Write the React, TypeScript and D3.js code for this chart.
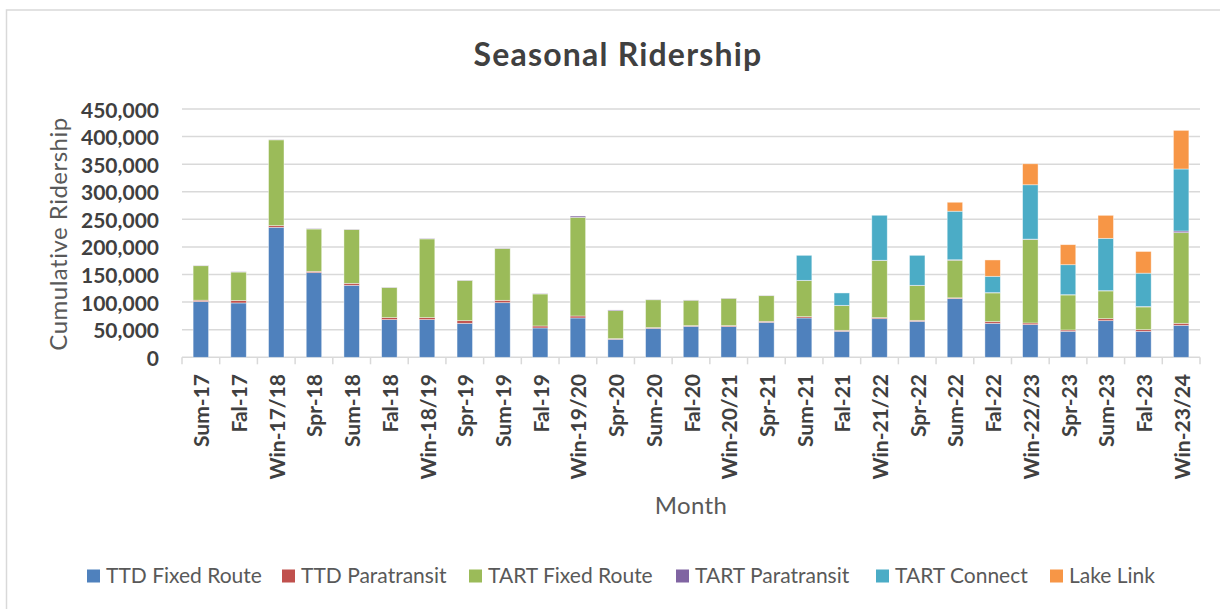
import React from "react";
import * as d3 from "d3";

const categories = [
  "Sum-17", "Fal-17", "Win-17/18", "Spr-18", "Sum-18", "Fal-18", "Win-18/19", "Spr-19", "Sum-19",
  "Fal-19", "Win-19/20", "Spr-20", "Sum-20", "Fal-20", "Win-20/21", "Spr-21", "Sum-21", "Fal-21",
  "Win-21/22", "Spr-22", "Sum-22", "Fal-22", "Win-22/23", "Spr-23", "Sum-23", "Fal-23", "Win-23/24",
];

const ttdFixedRoute = [101000, 98500, 235600, 153400, 130500, 68300, 68300, 61600, 99000, 53200, 71300, 32600, 52500, 56200, 55600, 63400, 71300, 47100, 70000, 65200, 106300, 61600, 59200, 47100, 66400, 47100, 58000];
const ttdParatransit = [2500, 4500, 3000, 2400, 3500, 3600, 3600, 4800, 4300, 3600, 3600, 1200, 1300, 1200, 1800, 1800, 2400, 1800, 1900, 1800, 1500, 3000, 3000, 2400, 3600, 3000, 3600];
const tartFixedRoute = [62500, 51500, 155500, 76700, 97500, 54500, 142700, 73000, 94000, 58000, 178800, 50800, 50500, 46000, 49500, 46500, 65300, 44800, 103500, 63000, 68200, 52100, 151500, 63500, 50300, 41200, 164300];
const tartParatransit = [500, 500, 500, 800, 500, 500, 800, 500, 500, 500, 2300, 1200, 500, 500, 500, 500, 500, 500, 500, 500, 800, 500, 500, 500, 500, 800, 3000];
const tartConnect = [0, 0, 0, 0, 0, 0, 0, 0, 0, 0, 0, 0, 0, 0, 0, 0, 45300, 22400, 81500, 54300, 88000, 29600, 98500, 54300, 94800, 60400, 112400];
const lakeLink = [0, 0, 0, 0, 0, 0, 0, 0, 0, 0, 0, 0, 0, 0, 0, 0, 0, 0, 0, 0, 16200, 29600, 38000, 36300, 41700, 39300, 70000];

const seriesNames = ["TTD Fixed Route", "TTD Paratransit", "TART Fixed Route", "TART Paratransit", "TART Connect", "Lake Link"];
const seriesValues = [ttdFixedRoute, ttdParatransit, tartFixedRoute, tartParatransit, tartConnect, lakeLink];
const seriesColors = ["#4F81BD", "#C0504D", "#9BBB59", "#8064A2", "#4BACC6", "#F79646"];
const yTicks = [0, 50000, 100000, 150000, 200000, 250000, 300000, 350000, 400000, 450000];

const W = 1220;
const H = 609;
const PLOT = { left: 182, right: 1200, top: 109, bottom: 357.3 };
const LEGEND_X = [87, 282, 469, 676, 876, 1050];
const FONT = "Lato, 'Open Sans', sans-serif";

export default function App() {
  const x = d3
    .scaleBand<string>()
    .domain(categories)
    .range([PLOT.left, PLOT.right])
    .paddingInner(0.59)
    .paddingOuter(0.295);
  const y = d3.scaleLinear().domain([0, 450000]).range([PLOT.bottom, PLOT.top]);

  const rows = categories.map((c, i) => {
    const r: Record<string, any> = { cat: c };
    seriesNames.forEach((s, k) => (r[s] = seriesValues[k][i]));
    return r;
  });
  const stacked = d3.stack<any>().keys(seriesNames)(rows);
  const step = x.step();

  return (
    <svg
      width={W}
      height={H}
      style={{ position: "absolute", left: 0, top: 0, background: "#fff" }}
      fontFamily={FONT}
    >
      <rect x={0} y={0} width={W} height={H} fill="#fff" />
      <rect x={6.5} y={10} width={W + 40} height={H + 40} fill="none" stroke="#d9d9d9" strokeWidth={1.5} />

      <text x={618} y={66} textAnchor="middle" fontSize={32} letterSpacing={1.2} fontWeight="bold" fill="#404040">
        Seasonal Ridership
      </text>

      {yTicks.map((t) => (
        <g key={t}>
          <line x1={PLOT.left} x2={PLOT.right} y1={y(t)} y2={y(t)} stroke="#d9d9d9" strokeWidth={1.5} />
          <text x={159} y={y(t)} textAnchor="end" dominantBaseline="central" fontSize={21} fontWeight="bold" fill="#404040">
            {d3.format(",")(t)}
          </text>
        </g>
      ))}

      {d3.range(categories.length + 1).map((i) => (
        <line
          key={i}
          x1={PLOT.left + i * step}
          x2={PLOT.left + i * step}
          y1={PLOT.bottom}
          y2={PLOT.bottom + 7}
          stroke="#d9d9d9"
          strokeWidth={1.5}
        />
      ))}

      {stacked.map((layer, k) => (
        <g key={layer.key} fill={seriesColors[k]}>
          {layer.map((d, i) =>
            d[1] - d[0] > 0 ? (
              <rect
                key={i}
                x={x(categories[i])}
                width={x.bandwidth()}
                y={y(d[1])}
                height={y(d[0]) - y(d[1])}
                stroke="#ffffff"
                strokeOpacity={0.55}
                strokeWidth={0.75}
              />
            ) : null
          )}
        </g>
      ))}

      {categories.map((c) => {
        const cx = (x(c) as number) + x.bandwidth() / 2;
        return (
          <text
            key={c}
            transform={`translate(${cx},374) rotate(-90)`}
            textAnchor="end"
            dominantBaseline="central"
            fontSize={21}
            fontWeight="bold"
            fill="#404040"
          >
            {c}
          </text>
        );
      })}

      <text transform="translate(57,234) rotate(-90)" textAnchor="middle" dominantBaseline="central" fontSize={24} letterSpacing={0.5} fill="#595959">
        Cumulative Ridership
      </text>
      <text x={691} y={514} textAnchor="middle" fontSize={24} letterSpacing={0.4} fill="#595959">
        Month
      </text>

      {seriesNames.map((s, k) => (
        <g key={s}>
          <rect x={LEGEND_X[k]} y={569.5} width={13} height={13} fill={seriesColors[k]} />
          <text x={LEGEND_X[k] + 19} y={583} fontSize={21} fill="#595959">
            {s}
          </text>
        </g>
      ))}
    </svg>
  );
}
